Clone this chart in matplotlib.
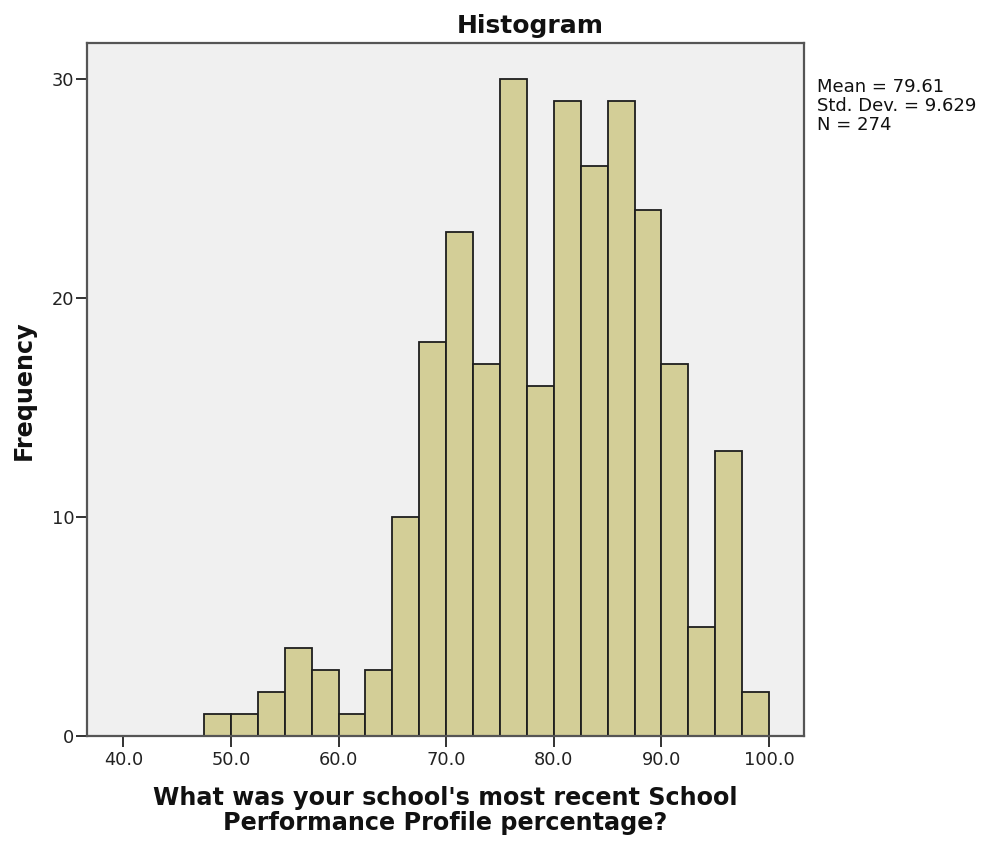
import matplotlib
matplotlib.use("Agg")
import matplotlib.pyplot as plt

# Data
bin_edges = [47.5, 50.0, 52.5, 55.0, 57.5, 60.0, 62.5, 65.0, 67.5, 70.0, 72.5,
             75.0, 77.5, 80.0, 82.5, 85.0, 87.5, 90.0, 92.5, 95.0, 97.5, 100.0]
counts = [1, 1, 2, 4, 3, 1, 3, 10, 18, 23, 17, 30, 16, 29, 26, 29, 24, 17, 5, 13, 2]
x_ticks = [40.0, 50.0, 60.0, 70.0, 80.0, 90.0, 100.0]
x_tick_labels = ["40.0", "50.0", "60.0", "70.0", "80.0", "90.0", "100.0"]
y_ticks = [0, 10, 20, 30]
stats_text = "Mean = 79.61\nStd. Dev. = 9.629\nN = 274"
title = "Histogram"
x_label = "What was your school's most recent School\nPerformance Profile percentage?"
y_label = "Frequency"

plt.rcParams['font.family'] = ['DejaVu Sans']

fig = plt.figure(figsize=(9.81, 8.41), dpi=100)
ax = fig.add_axes([0.0890, 0.1248, 0.8196 - 0.0890, 0.9485 - 0.1248])
ax.set_facecolor('#F0F0F0')

ax.hist(bin_edges[:-1], bins=bin_edges, weights=counts,
        color='#D3CE97', edgecolor='#1E1E1E', linewidth=1.3, zorder=2)

ax.set_xlim(36.65, 103.25)
ax.set_ylim(0, 31.62)
ax.set_xticks(x_ticks)
ax.set_xticklabels(x_tick_labels)
ax.set_yticks(y_ticks)

for s in ax.spines.values():
    s.set_color('#555555')
    s.set_linewidth(1.6)

ax.tick_params(axis='both', direction='out', length=7.7, width=1.3,
               color='#222222', labelsize=12.8, labelcolor='#222222')
ax.tick_params(axis='x', pad=3)
ax.tick_params(axis='y', pad=1.5)

fig.text(0.5408, 1 - 33 / 841, title, ha='center', va='baseline',
         fontsize=18, fontweight='bold', color='#111111')
fig.text(0.454, 0.036, x_label, ha='center', va='center',
         fontsize=17.2, fontweight='bold', color='#111111', linespacing=1.05)
fig.text(0.0245, 0.536, y_label, ha='center', va='center', rotation=90,
         fontsize=17.2, fontweight='bold', color='#111111')
fig.text(0.833, 0.907, stats_text, ha='left', va='top',
         fontsize=13, color='#111111', linespacing=1.05)

fig.savefig('out.png', dpi=100)
